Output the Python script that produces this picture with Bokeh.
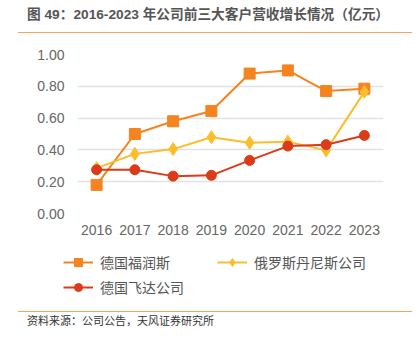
from bokeh.plotting import figure
from bokeh.models import (Range1d, FactorRange, Legend, LegendItem, Div,
                          SingleIntervalTicker, NumeralTickFormatter)
from bokeh.layouts import column
from bokeh.embed import file_html
from bokeh.resources import INLINE

years = ["2016", "2017", "2018", "2019", "2020", "2021", "2022", "2023"]
furunsi = [0.18, 0.50, 0.58, 0.645, 0.88, 0.90, 0.77, 0.785]
russia = [0.285, 0.375, 0.405, 0.48, 0.445, 0.452, 0.397, 0.765]
feida = [0.275, 0.275, 0.235, 0.24, 0.334, 0.424, 0.433, 0.491]
names = ["德国福润斯", "俄罗斯丹尼斯公司", "德国飞达公司"]
title_text = "图 49：2016-2023 年公司前三大客户营收增长情况（亿元）"
source_text = "资料来源：公司公告，天风证券研究所"

C_OR = "#F5831F"
C_YE = "#FBBD2C"
C_RD = "#DC3B1A"
C_LINE = "#F7A35C"
CJK = "Noto Sans CJK SC"
FONT_CSS = "'Liberation Sans','Noto Sans CJK SC',sans-serif"

series = [(furunsi, C_OR, "square", 11), (russia, C_YE, "diamond", 13),
          (feida, C_RD, "circle", 10)]

# ---- main chart ----
p = figure(width=420, height=209, x_range=FactorRange(*years, range_padding=0),
           y_range=Range1d(0, 1), output_backend="svg", toolbar_location=None,
           min_border_left=77, min_border_right=37, min_border_top=18,
           min_border_bottom=32, margin=(0, 0, 0, 0), frame_align=False)
p.outline_line_color = None
p.background_fill_color = "white"
p.border_fill_color = "white"

for ax in (p.xaxis[0], p.yaxis[0]):
    ax.axis_line_color = None
    ax.major_tick_line_color = None
    ax.minor_tick_line_color = None
    ax.major_label_text_color = "#666666"
    ax.major_label_text_font = "Liberation Sans"
    ax.major_label_text_font_size = "14px"
p.yaxis[0].ticker = SingleIntervalTicker(interval=0.2)
p.yaxis[0].formatter = NumeralTickFormatter(format="0.00")
p.yaxis[0].major_label_standoff = 7
p.xaxis[0].major_label_standoff = 5
p.xgrid.grid_line_color = None
p.ygrid.grid_line_color = "#e2e2e2"
p.ygrid.grid_line_width = 1.5

for vals, col, mk, sz in series:
    p.line(years, vals, line_color=col, line_width=2)
    p.scatter(years, vals, marker=mk, size=sz, fill_color=col, line_color=col)

# ---- legend strip (hidden copies of the series give the legend its glyphs) ----
lg = figure(width=420, height=55, output_backend="svg", toolbar_location=None,
            x_axis_type=None, y_axis_type=None, min_border=0, frame_align=False,
            margin=(0, 0, 0, 0), x_range=FactorRange(*years), y_range=Range1d(0, 1))
lg.outline_line_color = None
lg.grid.visible = False
items = []
for name, (vals, col, mk, sz) in zip(names, series):
    rl = lg.line(years, vals, line_color=col, line_width=2, visible=False)
    rm = lg.scatter(years, vals, marker=mk, size=sz, fill_color=col, line_color=col,
                    visible=False)
    items.append(LegendItem(label=name, renderers=[rl, rm]))

legend = Legend(items=items, location=(63, 3), orientation="horizontal", ncols=2,
                padding=0, margin=0, spacing=5, glyph_width=30, glyph_height=20,
                label_height=20, label_width=112, label_standoff=7,
                border_line_color=None, background_fill_alpha=0,
                inactive_fill_alpha=0,
                label_text_font=CJK, label_text_font_size="14px",
                label_text_color="#555555")
lg.add_layout(legend, "center")

title_div = Div(
    text=(f'<div style="margin-left:18px;width:394px;height:33px;box-sizing:border-box;'
          f'border-bottom:1.5px solid {C_LINE};padding:6px 0 0 9px;white-space:nowrap;'
          f'font-family:{FONT_CSS};font-size:13.7px;font-weight:bold;color:#555555;'
          f'line-height:18px;">{title_text}</div>'),
    width=420, height=36, margin=(0, 0, 0, 0))
src_div = Div(
    text=(f'<div style="margin-left:18px;margin-top:11px;width:394px;box-sizing:border-box;'
          f'border-top:1.5px solid {C_LINE};padding:1px 0 0 9px;white-space:nowrap;'
          f'font-family:{FONT_CSS};font-size:11px;color:#333333;line-height:16px;">'
          f'{source_text}</div>'),
    width=420, height=40, margin=(0, 0, 0, 0))

layout = column(title_div, p, lg, src_div, spacing=0, margin=(0, 0, 0, 0))
open("out.html", "w").write(file_html(layout, INLINE))
